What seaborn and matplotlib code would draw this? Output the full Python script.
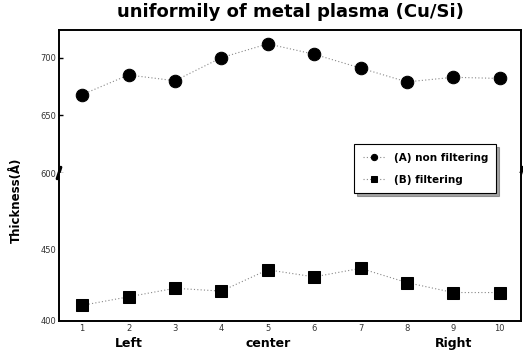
import numpy as np
import pandas as pd
import matplotlib
matplotlib.use("Agg")
import matplotlib.pyplot as plt
import seaborn as sns

positions = [1, 2, 3, 4, 5, 6, 7, 8, 9, 10]
non_filtering = [668, 685, 680, 700, 712, 703, 691, 679, 683, 682]
filtering = [411, 417, 423, 421, 436, 431, 437, 427, 420, 420]
series_names = ["(A) non filtering", "(B) filtering"]
upper_ticks = [600, 650, 700]
lower_ticks = [400, 450]
region_labels = ["Left", "center", "Right"]
region_pos = [2, 5, 9]

sns.set_theme(style="white")
plt.rcParams['font.family'] = ['DejaVu Sans']
plt.rcParams['text.color'] = 'black'

df = pd.DataFrame({
    "pos": positions * 2,
    "val": non_filtering + filtering,
    "series": [series_names[0]] * len(positions) + [series_names[1]] * len(positions),
})

W, H = 523, 354
fig = plt.figure(figsize=(W / 100, H / 100), dpi=100)
L, R = 59 / W, 521 / W
T, B, M = 1 - 30 / H, 1 - 321 / H, 1 - 173 / H
ax_u = fig.add_axes([L, M, R - L, T - M])
ax_l = fig.add_axes([L, B, R - L, M - B])

for ax in (ax_u, ax_l):
    sns.lineplot(data=df, x="pos", y="val", hue="series", style="series",
                 markers={series_names[0]: "o", series_names[1]: "s"},
                 dashes=False, palette=["black", "black"], markersize=9,
                 markeredgecolor="black", linewidth=0.8, ax=ax, legend=(ax is ax_u))
    for line in ax.lines:
        line.set_linestyle((0, (1, 2)))
        line.set_color("#888888")
        line.set_markerfacecolor("black")
        line.set_markeredgecolor("black")
    ax.set_xlim(0.5, 10.46)
    ax.set_xlabel("")
    ax.set_ylabel("")
    for s in ax.spines.values():
        s.set_color("black")
        s.set_linewidth(1.4)
    ax.tick_params(direction="in", length=3, width=1, colors="black",
                   labelsize=6, labelcolor="#333333", pad=2)

ax_u.set_ylim(600, 724)
ax_l.set_ylim(400, 504)
ax_u.set_yticks(upper_ticks)
ax_l.set_yticks(lower_ticks)
ax_u.set_xticks([])
ax_l.set_xticks(positions)
ax_u.spines["bottom"].set_visible(False)
ax_l.spines["top"].set_visible(False)
ax_u.tick_params(axis="y", left=True, right=False)

# break marks
for x in (0, 1):
    ax_u.plot([x - 0.004, x + 0.004], [-0.04, 0.04], transform=ax_u.transAxes,
              color="black", lw=2.2, clip_on=False)

# legend
handles, labels = ax_u.get_legend_handles_labels()
ax_u.get_legend().remove()
leg = fig.legend(handles, labels, loc="upper left",
                 bbox_to_anchor=(349 / W, 1 - 139 / H), frameon=True,
                 fancybox=False, shadow=True, markerscale=0.5,
                 prop={"size": 7.5, "weight": "bold"}, handlelength=2.2,
                 borderpad=0.8, labelspacing=1.2)
leg.get_frame().set_edgecolor("black")
leg.get_frame().set_linewidth(0.8)
for t in leg.get_texts():
    t.set_color("black")

fig.text(290 / W, 1 - 12 / H, "uniformily of metal plasma (Cu/Si)",
         ha="center", va="center", fontsize=13, fontweight="bold", color="black")
fig.text(16 / W, 1 - 200 / H, "Thickness(Å)", rotation=90, ha="center",
         va="center", fontsize=8.5, fontweight="bold", color="black")
for lab, p in zip(region_labels, region_pos):
    ax_l.text(p, -0.15, lab, transform=ax_l.get_xaxis_transform(),
              ha="center", va="center", fontsize=9, fontweight="bold", color="black")

fig.savefig("out.png", dpi=100)
